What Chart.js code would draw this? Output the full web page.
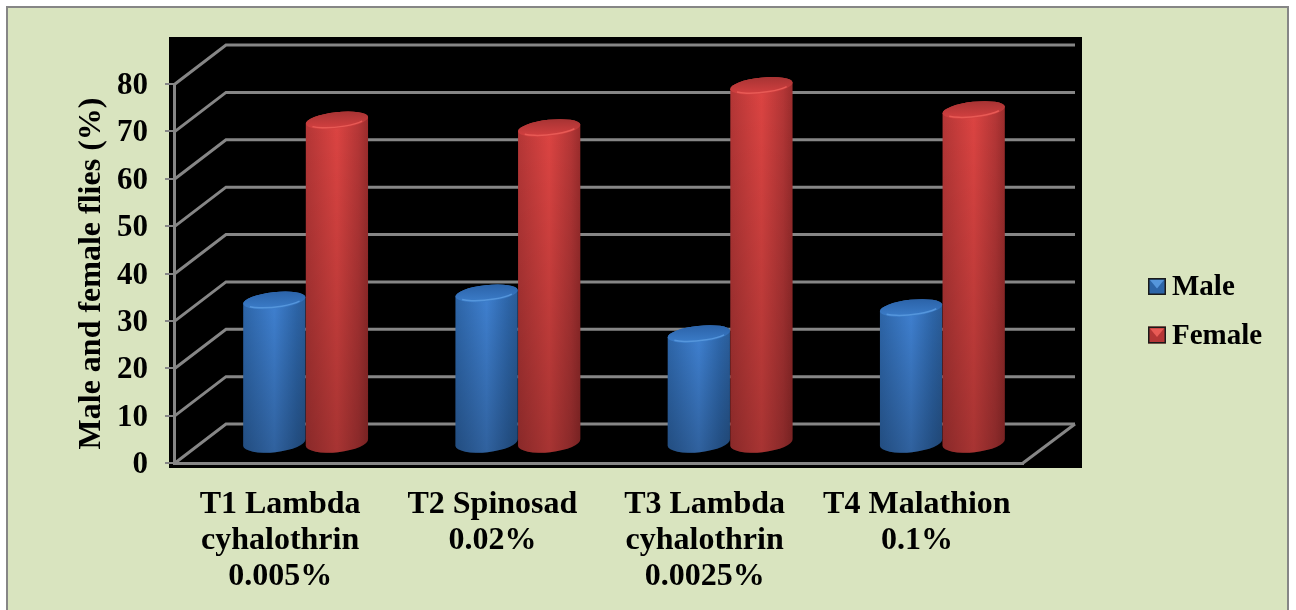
<!DOCTYPE html>
<html>
<head>
<meta charset="utf-8">
<title>Male and female flies</title>
<script src="https://cdn.jsdelivr.net/npm/chart.js@4"></script>
<style>
    html, body { margin: 0; padding: 0; background: #fff; }
    canvas { display: block; }
</style>
</head>
<body>
<canvas id="chart-flies" width="1296" height="610"></canvas>
<script>
const categories = [
    ["T1 Lambda", "cyhalothrin", "0.005%"],
    ["T2 Spinosad", "0.02%"],
    ["T3 Lambda", "cyhalothrin", "0.0025%"],
    ["T4 Malathion", "0.1%"]
];
const maleValues = [30.2, 31.7, 23.1, 28.6];
const femaleValues = [68.2, 66.6, 75.5, 70.4];
const seriesNames = ["Male", "Female"];
const yTicks = [0, 10, 20, 30, 40, 50, 60, 70, 80];

const GREY = "#868686";
const SERIF = "'Liberation Serif', 'Times New Roman', serif";

// offset between the front plane and the back wall of the 3D box
const DEPTH_X = 52;
const DEPTH_Y = -39;

const palette = {
    Male: { edge: "#2d65a8", mid: "#3f80d0", dark: "#2a5c98", cap: "#2c64aa", front: "#3b7cc8", rim: "#5596dc" },
    Female: { edge: "#b43636", mid: "#dc4442", dark: "#9a2c2c", cap: "#a93434", front: "#d34040", rim: "#e85a55" }
};

function drawCylinder(ctx, cx, top, base, rx, colors) {
    const ry = 8.2;
    const tilt = -0.11;
    const dx = rx * Math.cos(tilt);

    const side = ctx.createLinearGradient(cx - dx, 0, cx + dx, 0);
    side.addColorStop(0, colors.edge);
    side.addColorStop(0.5, colors.mid);
    side.addColorStop(0.85, colors.edge);
    side.addColorStop(1, colors.dark);

    // the floor ellipse sits a little lower and rounder than the top face
    ctx.beginPath();
    ctx.ellipse(cx, base, rx, ry + 1.5, tilt, Math.PI, 0, true);
    ctx.ellipse(cx, top, rx, ry, tilt, 0, Math.PI, true);
    ctx.closePath();
    ctx.fillStyle = side;
    ctx.fill();

    // bodies get darker towards the floor
    const shade = ctx.createLinearGradient(0, top, 0, base + ry);
    shade.addColorStop(0, "rgba(0,0,0,0)");
    shade.addColorStop(1, "rgba(0,0,0,0.24)");
    ctx.fillStyle = shade;
    ctx.fill();

    // top face, dark at the back and fading into the body at the front
    const face = ctx.createLinearGradient(0, top - ry, 0, top + ry);
    face.addColorStop(0, colors.cap);
    face.addColorStop(1, colors.front);
    ctx.beginPath();
    ctx.ellipse(cx, top, rx, ry, tilt, 0, Math.PI * 2);
    ctx.fillStyle = face;
    ctx.fill();

    ctx.beginPath();
    ctx.ellipse(cx, top, rx - 2, ry - 1.5, tilt, 0.55, Math.PI - 0.55);
    ctx.strokeStyle = colors.rim;
    ctx.lineWidth = 1.5;
    ctx.stroke();
}

function drawSwatch(ctx, x, y, w, h, colors) {
    ctx.fillStyle = colors.edge;
    ctx.fillRect(x, y, w, h);
    ctx.fillStyle = colors.rim;
    ctx.beginPath();
    ctx.moveTo(x + 2, y + 2);
    ctx.lineTo(x + w - 2, y + 2);
    ctx.lineTo(x + w / 2, y + h / 2 + 2);
    ctx.closePath();
    ctx.fill();
    ctx.strokeStyle = "#1a1a1a";
    ctx.lineWidth = 1.5;
    ctx.strokeRect(x + 0.75, y + 0.75, w - 1.5, h - 1.5);
}

const box3d = {
    id: "box3d",
    beforeDraw(chart) {
        const { ctx, chartArea: area, scales: { y } } = chart;
        ctx.save();
        ctx.fillStyle = "#fff";
        ctx.fillRect(0, 0, chart.width, chart.height);

        // panel has a border on three sides only, the bottom runs off the page
        ctx.fillStyle = "#d9e4bf";
        ctx.fillRect(7, 7, 1281, 603);
        ctx.strokeStyle = GREY;
        ctx.lineWidth = 2;
        ctx.beginPath();
        ctx.moveTo(7, 610);
        ctx.lineTo(7, 7);
        ctx.lineTo(1288, 7);
        ctx.lineTo(1288, 610);
        ctx.stroke();

        // black backdrop behind the box
        ctx.fillStyle = "#000";
        ctx.fillRect(area.left - 5, 37, 913, 431);

        // side wall and back wall gridlines
        ctx.strokeStyle = GREY;
        ctx.lineWidth = 3;
        yTicks.forEach(v => {
            const py = y.getPixelForValue(v);
            ctx.beginPath();
            ctx.moveTo(area.left + 1, py);
            ctx.lineTo(area.left + DEPTH_X, py + DEPTH_Y);
            ctx.lineTo(area.right + DEPTH_X, py + DEPTH_Y);
            ctx.stroke();
        });
        // floor edge on the right
        ctx.beginPath();
        ctx.moveTo(area.right, area.bottom);
        ctx.lineTo(area.right + DEPTH_X, area.bottom + DEPTH_Y);
        ctx.stroke();
        ctx.restore();
    },
    // cylinders replace the flat bars
    beforeDatasetDraw() {
        return false;
    },
    afterDatasetsDraw(chart) {
        const { ctx } = chart;
        ctx.save();
        chart.data.datasets.forEach((ds, i) => {
            chart.getDatasetMeta(i).data.forEach(bar => {
                const cx = bar.x + DEPTH_X / 2 - 0.5;
                drawCylinder(ctx, cx, bar.y + DEPTH_Y / 2, bar.base + DEPTH_Y / 2, bar.width / 2, palette[ds.label]);
            });
        });

        // legend
        ctx.font = "bold 29px " + SERIF;
        ctx.textAlign = "left";
        ctx.textBaseline = "alphabetic";
        seriesNames.forEach((name, i) => {
            const top = 278 + i * 48.5;
            drawSwatch(ctx, 1148, top, 18, 17, palette[name]);
            ctx.fillStyle = "#000";
            ctx.fillText(name, 1172, top + 17);
        });
        ctx.restore();
    }
};

new Chart(document.getElementById("chart-flies"), {
    type: "bar",
    data: {
        labels: categories,
        datasets: [
            { label: seriesNames[0], data: maleValues, backgroundColor: palette.Male.mid },
            { label: seriesNames[1], data: femaleValues, backgroundColor: palette.Female.mid }
        ]
    },
    options: {
        responsive: false,
        animation: false,
        layout: { padding: { top: 84, right: 273, bottom: 0, left: 0 } },
        datasets: { bar: { categoryPercentage: 0.59, barPercentage: 1 } },
        plugins: {
            legend: { display: false },
            tooltip: { enabled: false },
            title: { display: false }
        },
        scales: {
            x: {
                afterFit(scale) { scale.height = 147; },
                grid: { display: false, drawTicks: false },
                border: { color: GREY, width: 3 },
                ticks: {
                    color: "#000",
                    padding: 24,
                    maxRotation: 0,
                    autoSkip: false,
                    font: { family: SERIF, size: 32, weight: "bold", lineHeight: 1.12 }
                }
            },
            y: {
                min: 0,
                max: 80,
                afterFit(scale) { scale.width = 174; },
                grid: { drawOnChartArea: false, color: GREY, lineWidth: 2, tickLength: 9 },
                border: { color: GREY, width: 3 },
                title: {
                    display: true,
                    text: "Male and female flies (%)",
                    color: "#000",
                    padding: { top: 73, bottom: 0 },
                    font: { family: SERIF, size: 32, weight: "bold", lineHeight: 1.2 }
                },
                ticks: {
                    stepSize: 10,
                    color: "#000",
                    padding: 17,
                    labelOffset: 2,
                    font: { family: SERIF, size: 31, weight: "bold" }
                }
            }
        }
    },
    plugins: [box3d]
});
</script>
</body>
</html>
